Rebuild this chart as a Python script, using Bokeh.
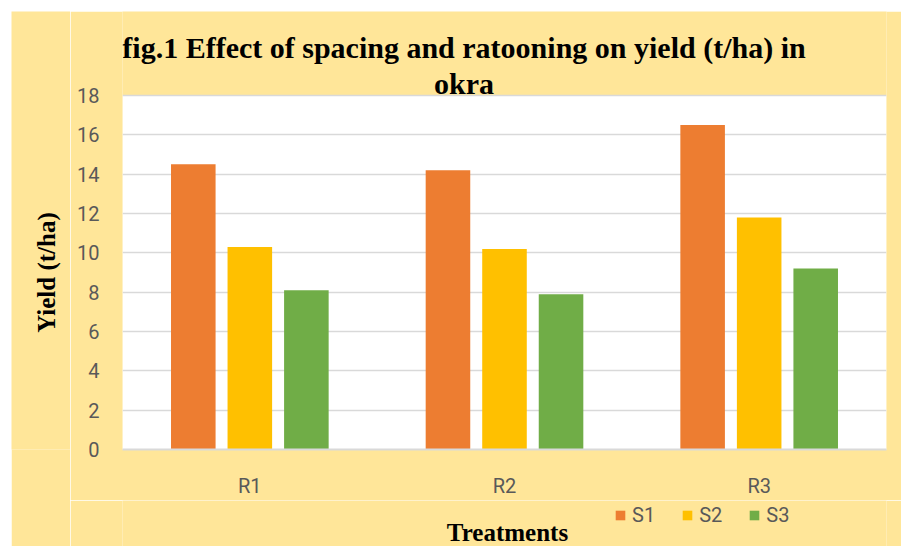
import math
from bokeh.plotting import figure
from bokeh.models import (FactorRange, Range1d, FixedTicker, Legend, LegendItem,
                          ColumnDataSource, Label, Spacer, BoxAnnotation)
from bokeh.layouts import column, row
from bokeh.transform import dodge
from bokeh.embed import file_html
from bokeh.resources import INLINE

# ---- data ----
treatments = ["R1", "R2", "R3"]
series = ["S1", "S2", "S3"]
s1 = [14.5, 14.2, 16.5]
s2 = [10.3, 10.2, 11.8]
s3 = [8.1, 7.9, 9.2]
y_ticks = [0, 2, 4, 6, 8, 10, 12, 14, 16, 18]
colors = ["#ED7D31", "#FFC000", "#70AD47"]

title_line1 = "fig.1 Effect of spacing and ratooning on yield (t/ha) in"
title_line2 = "okra"
y_label = "Yield (t/ha)"
x_label = "Treatments"

# ---- layout geometry (page px) ----
BG = "#FFE699"
OX, OY = 11, 11            # white page strip left / top of the chart area
LW = 70                    # right edge of the y-title strip
FL, FR = 122, 886          # plot-area left / right
PT, PB = 95, 449           # plot-area top (value 18) / bottom (value 0)
MB = 500                   # bottom of the main figure
W_MAIN = 901 - LW
H_MAIN = MB - OY
H_BOT = 546 - MB

# ---- y-axis title strip ----
left = figure(width=LW - OX, height=546 - OY, x_range=Range1d(OX, LW), y_range=Range1d(PB, OY),
              output_backend="svg", toolbar_location=None,
              x_axis_location=None, y_axis_location=None,
              min_border_left=0, min_border_right=0, min_border_top=0,
              min_border_bottom=546 - PB)
left.grid.visible = False
left.border_fill_color = BG
left.background_fill_color = BG
left.outline_line_color = None
left.add_layout(Label(x=46, y=(PT + PB) / 2, text=y_label, angle=math.pi / 2,
                      text_align="center", text_baseline="middle",
                      text_font="Liberation Serif", text_font_style="bold",
                      text_font_size="25px", text_color="#000000"))

# ---- main plot (frame reaches up to the top so the title sits inside it) ----
src = ColumnDataSource(dict(x=treatments, S1=s1, S2=s2, S3=s3))
y_top = y_ticks[-1] * (PB - OY) / (PB - PT)
p = figure(width=W_MAIN, height=H_MAIN, x_range=FactorRange(*treatments, range_padding=0),
           y_range=Range1d(0, y_top), output_backend="svg", toolbar_location=None,
           min_border_left=FL - LW, min_border_right=901 - FR,
           min_border_top=0, min_border_bottom=MB - PB)
p.border_fill_color = BG
p.background_fill_color = BG
p.outline_line_color = None
p.add_layout(BoxAnnotation(bottom=y_ticks[0], top=y_ticks[-1], fill_color="#FFFFFF",
                           fill_alpha=1, line_color=None, level="image"))

bw = 0.175
offs = [-0.222, 0.0, 0.222]
for name, off, col in zip(series, offs, colors):
    p.vbar(x=dodge("x", off, range=p.x_range), top=name, width=bw, source=src,
           fill_color=col, line_color=None)

p.yaxis.ticker = FixedTicker(ticks=y_ticks)
p.yaxis.axis_line_color = None
p.yaxis.major_tick_line_color = None
p.yaxis.minor_tick_line_color = None
p.yaxis.major_tick_out = 0
p.yaxis.minor_tick_out = 0
p.yaxis.major_label_text_font = "Roboto"
p.yaxis.major_label_text_font_size = "20px"
p.yaxis.major_label_text_color = "#595959"
p.yaxis.major_label_standoff = 23

p.xaxis.axis_line_color = "#D9D9D9"
p.xaxis.axis_line_width = 2
p.xaxis.major_tick_line_color = None
p.xaxis.minor_tick_line_color = None
p.xaxis.major_tick_out = 0
p.xaxis.minor_tick_out = 0
p.xaxis.major_label_text_font = "Roboto"
p.xaxis.major_label_text_font_size = "20px"
p.xaxis.major_label_text_color = "#595959"
p.xaxis.major_label_standoff = 24

p.xgrid.grid_line_color = None
p.ygrid.grid_line_color = "#D9D9D9"
p.ygrid.grid_line_width = 1.5

# title: two centred lines (screen units: from frame left / frame bottom)
for txt, base in [(title_line1, 57), (title_line2, 93)]:
    p.add_layout(Label(x=463.5 - FL, y=PB - (base - 10), x_units="screen", y_units="screen",
                       text=txt, text_align="center", text_baseline="middle",
                       text_font="Liberation Serif", text_font_style="bold",
                       text_font_size="30px", text_color="#000000"))

# ---- legend + x-axis title band ----
bot = figure(width=W_MAIN, height=H_BOT, x_range=Range1d(FL, FR), y_range=Range1d(546, MB),
             output_backend="svg", toolbar_location=None,
             x_axis_location=None, y_axis_location=None,
             min_border_left=FL - LW, min_border_right=901 - FR,
             min_border_top=0, min_border_bottom=0)
bot.grid.visible = False
bot.border_fill_color = BG
bot.background_fill_color = BG
bot.outline_line_color = None
leg_rs = []
for c in colors:   # legend keys only (hidden, zero-height)
    r = bot.vbar(x=[FL], top=[546], bottom=[546], width=1, fill_color=c, line_color=None)
    r.visible = False
    leg_rs.append(r)
legend = Legend(items=[LegendItem(label=n, renderers=[r]) for n, r in zip(series, leg_rs)],
                orientation="horizontal", location=(614 - FL, 19),
                glyph_width=12, glyph_height=12, label_standoff=6, spacing=26,
                padding=0, margin=0, border_line_color=None, background_fill_alpha=0,
                label_text_font="Roboto", label_text_font_size="20px",
                label_text_color="#595959")
bot.add_layout(legend, "center")
bot.add_layout(Label(x=507, y=540 - 8, text=x_label, text_align="center",
                     text_baseline="middle", text_font="Liberation Serif",
                     text_font_style="bold", text_font_size="25px", text_color="#000000"))

layout = column(Spacer(width=901, height=OY),
                row(Spacer(width=OX, height=546 - OY), left, column(p, bot)))
open("out.html", "w").write(file_html(layout, INLINE))
